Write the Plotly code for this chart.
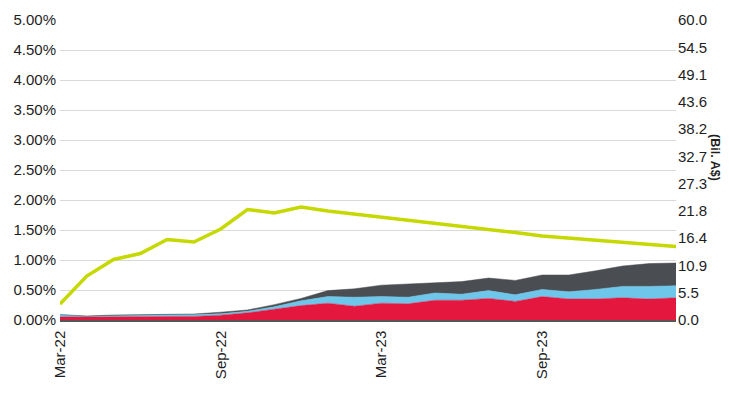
import plotly.graph_objects as go

months = ["Mar-22", "Apr-22", "May-22", "Jun-22", "Jul-22", "Aug-22", "Sep-22", "Oct-22",
          "Nov-22", "Dec-22", "Jan-23", "Feb-23", "Mar-23", "Apr-23", "May-23", "Jun-23",
          "Jul-23", "Aug-23", "Sep-23", "Oct-23", "Nov-23", "Dec-23", "Jan-24", "Feb-24"]
x_ticks = ["Mar-22", "Sep-22", "Mar-23", "Sep-23"]

# stacked areas (%)
red_vals = [0.05, 0.05, 0.05, 0.055, 0.06, 0.06, 0.08, 0.12, 0.18, 0.24, 0.28, 0.23,
            0.28, 0.27, 0.33, 0.33, 0.36, 0.31, 0.39, 0.35, 0.35, 0.37, 0.35, 0.37]
blue_vals = [0.04, 0.01, 0.02, 0.02, 0.02, 0.03, 0.025, 0.025, 0.04, 0.08, 0.11, 0.15,
             0.11, 0.11, 0.12, 0.10, 0.13, 0.11, 0.12, 0.12, 0.16, 0.19, 0.21, 0.20]
gray_vals = [0.0, 0.007, 0.013, 0.017, 0.015, 0.01, 0.025, 0.022, 0.036, 0.04, 0.10, 0.14,
             0.19, 0.22, 0.18, 0.21, 0.21, 0.24, 0.24, 0.28, 0.31, 0.34, 0.38, 0.38]
# line (Bil. A$)
line_vals = [3.2, 8.8, 12.1, 13.3, 16.1, 15.6, 18.2, 22.1, 21.4, 22.6, 21.8, 21.2,
             20.5, 19.9, 19.3, 18.8, 18.1, 17.5, 16.8, 16.4, 16.0, 15.5, 15.1, 14.7]

left_ticks = [0, 0.5, 1.0, 1.5, 2.0, 2.5, 3.0, 3.5, 4.0, 4.5, 5.0]
right_ticks = [i * 60 / 11 for i in range(12)]

fig = go.Figure()
for name, vals, col in [("red", red_vals, "#E4173E"),
                        ("blue", blue_vals, "#6EC6EA"),
                        ("gray", gray_vals, "#4A4D52")]:
    fig.add_trace(go.Scatter(x=months, y=vals, mode="lines", stackgroup="one",
                             line=dict(width=0.5, color=col), fillcolor=col,
                             name=name, showlegend=False, yaxis="y"))

fig.add_trace(go.Scatter(x=months, y=line_vals, mode="lines",
                         line=dict(color="#C5D800", width=3.5),
                         showlegend=False, yaxis="y2"))

fam = "Liberation Sans, Arial, sans-serif"
font = dict(family=fam, size=15, color="#1E1E1E")

fig.update_layout(
    width=721, height=396,
    margin=dict(l=52, r=53, t=12, b=84, autoexpand=False),
    paper_bgcolor="white", plot_bgcolor="white",
    font=font,
    xaxis=dict(type="category", range=[0, 23], tickmode="array", tickvals=x_ticks,
               ticktext=x_ticks, tickangle=-90, showgrid=False, showline=True,
               linecolor="#555555", linewidth=1.5, ticks="", zeroline=False,
               automargin=False, ticklabelstandoff=3),
    yaxis=dict(range=[0, 5], tickmode="array", tickvals=left_ticks,
               ticktext=[f"{v:.2f}%" for v in left_ticks],
               showgrid=True, gridcolor="#D9D9D9", gridwidth=1, zeroline=False,
               ticks="", showline=False, automargin=False, ticklabelstandoff=3),
    yaxis2=dict(range=[0, 60], overlaying="y", side="right", tickmode="array",
                tickvals=right_ticks, ticktext=[f"{v:.1f}" for v in right_ticks],
                showgrid=False, zeroline=False, ticks="", showline=False,
                automargin=False, ticklabelstandoff=1),
    annotations=[dict(text="<b>(Bil. A$)</b>", xref="paper", yref="paper",
                      x=1.0, xshift=39, xanchor="center", y=0.543, yanchor="middle",
                      textangle=90, showarrow=False,
                      font=dict(family=fam, size=12.5, color="#1E1E1E"))],
)

fig.write_html("out.html")
